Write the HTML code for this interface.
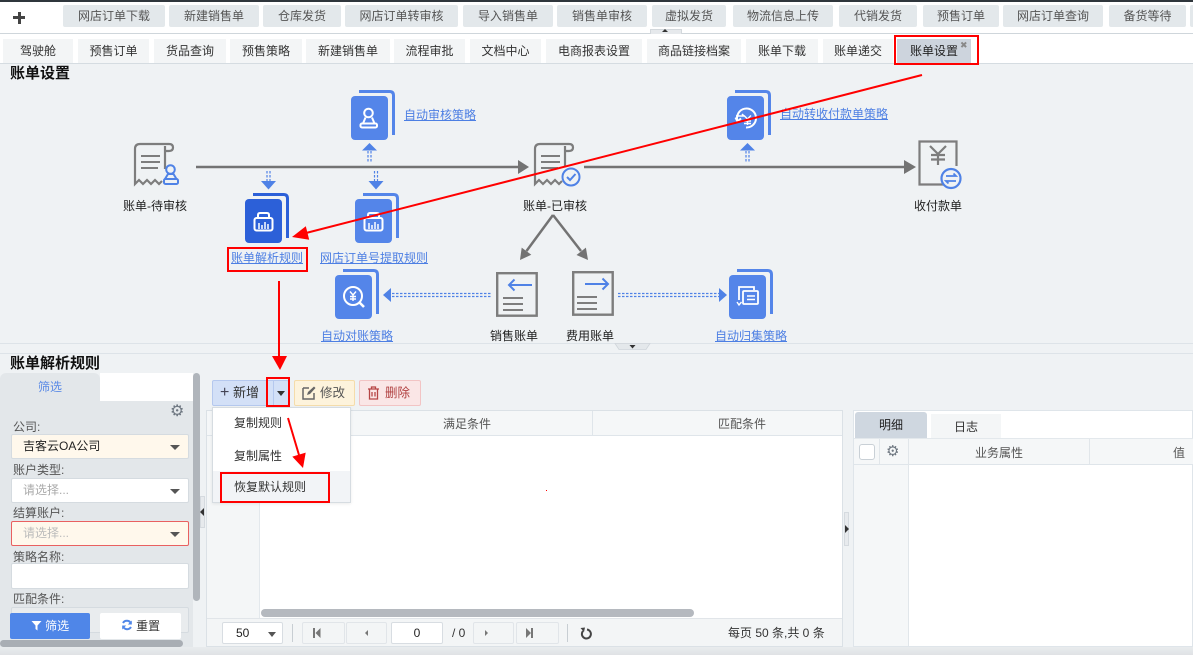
<!DOCTYPE html>
<html><head><meta charset="utf-8">
<style>
*{margin:0;padding:0;box-sizing:border-box}
body{width:1193px;height:655px;overflow:hidden;position:relative;background:#eff2f4;font-family:"Liberation Sans","Noto Sans CJK SC",sans-serif;font-size:12px;color:#333}
.a{position:absolute}
.b1{position:absolute;top:5px;height:22px;line-height:22px;background:#e3e8eb;color:#555;text-align:center;border-radius:2px;font-size:12px;white-space:nowrap;overflow:hidden}
.tab{position:absolute;top:39px;height:24px;line-height:24px;background:#f3f5f6;color:#333;text-align:center;font-size:12px;white-space:nowrap}
.lbl{position:absolute;width:140px;text-align:center;line-height:14px;font-size:12px;color:#222;white-space:nowrap}
.lnk{position:absolute;line-height:14px;font-size:12px;color:#4d7fe3;text-decoration:underline;white-space:nowrap}
.fl{position:absolute;left:13px;font-size:12px;color:#555;line-height:14px}
.sel{position:absolute;left:11px;width:178px;height:25px;border:1px solid #d5dbe0;border-radius:2px;line-height:23px;padding-left:11px;font-size:12px}
.car{position:absolute;right:8px;top:10px;width:0;height:0;border-left:5px solid transparent;border-right:5px solid transparent;border-top:5px solid #555}
.pb{position:absolute;top:622px;height:22px;background:#f3f5f6;border:1px solid #e1e5e9;border-radius:2px}
</style></head><body>

<!-- top row -->
<div class="a" style="left:0;top:0;width:1193px;height:34px;background:#fff;border-top:2px solid #2f363c;border-bottom:1px solid #cfd6db"></div>
<div class="a" style="left:13px;top:16px;width:12px;height:3px;background:#444"></div>
<div class="a" style="left:17.5px;top:11.5px;width:3px;height:12px;background:#444"></div>
<div class="b1" style="left:63px;width:102px">网店订单下载</div>
<div class="b1" style="left:169px;width:90px">新建销售单</div>
<div class="b1" style="left:263px;width:78px">仓库发货</div>
<div class="b1" style="left:345px;width:113px">网店订单转审核</div>
<div class="b1" style="left:463px;width:90px">导入销售单</div>
<div class="b1" style="left:557px;width:90px">销售单审核</div>
<div class="b1" style="left:652px;width:74px">虚拟发货</div>
<div class="b1" style="left:733px;width:100px">物流信息上传</div>
<div class="b1" style="left:839px;width:78px">代销发货</div>
<div class="b1" style="left:923px;width:76px">预售订单</div>
<div class="b1" style="left:1003px;width:100px">网店订单查询</div>
<div class="b1" style="left:1109px;width:77px">备货等待</div>
<div class="b1" style="left:1190px;width:10px"></div>
<div class="a" style="left:650px;top:29px;width:32px;height:5px;background:#e6e9ec;border:1px solid #d3d8dc;border-bottom:none"></div>
<div class="a" style="left:662px;top:29px;width:0;height:0;border-left:3px solid transparent;border-right:3px solid transparent;border-bottom:3px solid #333"></div>

<!-- tabs row -->
<div class="a" style="left:0;top:34px;width:1193px;height:30px;background:#fff;border-bottom:1px solid #d5dce1"></div>
<div class="tab" style="left:3px;width:70px">驾驶舱</div>
<div class="tab" style="left:78px;width:71px">预售订单</div>
<div class="tab" style="left:154px;width:72px">货品查询</div>
<div class="tab" style="left:230px;width:72px">预售策略</div>
<div class="tab" style="left:306px;width:84px">新建销售单</div>
<div class="tab" style="left:394px;width:71px">流程审批</div>
<div class="tab" style="left:470px;width:71px">文档中心</div>
<div class="tab" style="left:546px;width:96px">电商报表设置</div>
<div class="tab" style="left:647px;width:94px">商品链接档案</div>
<div class="tab" style="left:746px;width:72px">账单下载</div>
<div class="tab" style="left:823px;width:70px">账单递交</div>
<div class="tab" style="left:897px;width:74px;background:#cdd4dd;color:#222">账单设置</div>
<div class="a" style="left:960px;top:40px;font-size:9px;color:#888;line-height:10px">✖</div>

<!-- title -->
<div class="a" style="left:10px;top:65px;font-size:15px;font-weight:bold;color:#111;line-height:18px">账单设置</div>

<!-- diagram shapes -->
<svg class="a" style="left:0;top:0" width="1193" height="655">
<!-- separator lines -->
<line x1="0" y1="343.5" x2="1193" y2="343.5" stroke="#dde3e8" stroke-width="1"/>
<line x1="0" y1="353.5" x2="1193" y2="353.5" stroke="#dde3e8" stroke-width="1"/>
<path d="M615,343.5 H650 L646,349.5 H619 Z" fill="#e4e8eb" stroke="#cfd5da" stroke-width="0.8"/>
<path d="M629.5,345 H635.5 L632.5,348.5 Z" fill="#333"/>

<!-- gray arrows -->
<g stroke="#737373" stroke-width="2.5" fill="none">
<line x1="196" y1="167" x2="520" y2="167"/>
<line x1="584" y1="167" x2="906" y2="167"/>
<line x1="553" y1="215" x2="526.5" y2="251"/>
<line x1="553" y1="215" x2="581" y2="251"/>
</g>
<g fill="#737373">
<path d="M518,160 L529,167 L518,174Z"/>
<path d="M904,160 L916,167 L904,174Z"/>
<path d="M520,260 L531.3,254.7 L521.7,247.6 Z"/>
<path d="M588,260 L585.9,247.6 L576.5,255 Z"/>
</g>

<!-- blue dashed arrows -->
<g fill="#4f82e6">
<path d="M362,150.5 L369.5,143 L377,150.5 Z"/>
<path d="M740,150.5 L747.5,143 L755,150.5 Z"/>
<path d="M261,181 L276,181 L268.5,189.5 Z"/>
<path d="M368.5,181 L383.5,181 L376,189.5 Z"/>
<path d="M391,288 L391,302 L383,295 Z"/>
<path d="M719,288 L719,302 L727,295 Z"/>
</g>
<g stroke="#4f82e6" stroke-width="1.2" stroke-dasharray="2.5,1.5" fill="none">
<path d="M368,151 V162 M371,151 V162"/>
<path d="M746,151 V162 M749,151 V162"/>
<path d="M267,171 V181 M270,171 V181"/>
<path d="M374.5,171 V181 M377.5,171 V181"/>
<path d="M392,293.5 H492 M392,296.5 H492"/>
<path d="M618,293.5 H719 M618,296.5 H719"/>
</g>

<!-- blue doc icons -->
<g transform="translate(351,90)">
<rect x="0" y="6" width="37" height="44" rx="4" fill="#5485e9"/>
<path d="M8,1.5 H38.5 Q42.5,1.5 42.5,5.5 V45" fill="none" stroke="#5485e9" stroke-width="3"/>
<g fill="none" stroke="#fff" stroke-width="2">
<circle cx="17.5" cy="23" r="4.3"/>
<path d="M14.5,27.5 L12,33.5 H23.5 L21,27.5"/>
<rect x="9.5" y="33.5" width="16.5" height="4" rx="1.5"/>
</g></g>

<g transform="translate(727,90)">
<rect x="0" y="6" width="37" height="44" rx="4" fill="#5485e9"/>
<path d="M8,1.5 H38.5 Q42.5,1.5 42.5,5.5 V45" fill="none" stroke="#5485e9" stroke-width="3"/>
<g fill="none" stroke="#fff" stroke-width="2">
<path d="M10.5,31 A9.5,9.5 0 1 1 19,37.5"/>
<path d="M8.5,27.5 L10.5,31.5 L14,28.5"/>
<path d="M9,26 H17 L15,24" stroke-width="1.5"/>
<path d="M17,25.5 L20.5,29 L24,25.5 M20.5,29 V35 M17,31 H24 M17,33.5 H24" stroke-width="1.4"/>
</g></g>

<g transform="translate(245,193)">
<rect x="0" y="6" width="37" height="44" rx="4" fill="#2c60d8"/>
<path d="M8,1.5 H38.5 Q42.5,1.5 42.5,5.5 V45" fill="none" stroke="#2c60d8" stroke-width="3"/>
<g fill="none" stroke="#fff" stroke-width="2">
<path d="M13,25 V22 Q13,20 15,20 H22 Q24,20 24,22 V25"/>
<rect x="9.5" y="25" width="18" height="12.5" rx="2"/>
<path d="M14,36 V30 M17,36 V32 M20,36 V29 M23,36 V31" stroke-width="1.5"/>
</g></g>

<g transform="translate(355,193)">
<rect x="0" y="6" width="37" height="44" rx="4" fill="#5485e9"/>
<path d="M8,1.5 H38.5 Q42.5,1.5 42.5,5.5 V45" fill="none" stroke="#5485e9" stroke-width="3"/>
<g fill="none" stroke="#fff" stroke-width="2">
<path d="M13,25 V22 Q13,20 15,20 H22 Q24,20 24,22 V25"/>
<rect x="9.5" y="25" width="18" height="12.5" rx="2"/>
<path d="M14,36 V30 M17,36 V32 M20,36 V29 M23,36 V31" stroke-width="1.5"/>
</g></g>

<g transform="translate(335,269)">
<rect x="0" y="6" width="37" height="44" rx="4" fill="#5485e9"/>
<path d="M8,1.5 H38.5 Q42.5,1.5 42.5,5.5 V45" fill="none" stroke="#5485e9" stroke-width="3"/>
<g fill="none" stroke="#fff" stroke-width="2">
<circle cx="18" cy="27" r="9"/>
<path d="M24.5,33.5 L29,38" stroke-width="2.6"/>
<path d="M15,22.5 L18,26 L21,22.5 M18,26 V32 M15,27.5 H21 M15,30 H21" stroke-width="1.4"/>
</g></g>

<g transform="translate(729,269)">
<rect x="0" y="6" width="37" height="44" rx="4" fill="#5485e9"/>
<path d="M8,1.5 H38.5 Q42.5,1.5 42.5,5.5 V45" fill="none" stroke="#5485e9" stroke-width="3"/>
<g fill="none" stroke="#fff" stroke-width="1.8">
<path d="M10,31 V18 H25 V21"/>
<rect x="14" y="22" width="15" height="13" rx="1"/>
<path d="M18,27 H26 M18,30.5 H26" stroke-width="1.4"/>
<path d="M8,33 L10,36 L12.5,33" stroke-width="1.4"/>
</g></g>

<!-- gray receipt: 待审核 -->
<g transform="translate(133,142)" fill="none" stroke="#7d7d7d" stroke-width="2.2">
<path d="M2,7 V42 L6,38 L10,42 L14,38 L18,42 L22,38 L26,42 L29,39"/>
<path d="M2,7 Q2,2 7,2 H36 Q40,2 40,5.5 Q40,9 36,9 H32"/>
<path d="M32,4 V27"/>
<path d="M8,14 H27 M8,20 H27 M8,26 H25" stroke-width="2"/>
<g stroke="#4f82e6" stroke-width="2" fill="#eff2f4">
<circle cx="37.5" cy="27.5" r="4.3"/>
<path d="M35,32 L32,37 H43.5 L40.5,32 Z"/>
<rect x="31" y="37" width="14" height="5" rx="1.5"/>
</g></g>

<!-- gray receipt: 已审核 -->
<g transform="translate(533,142)" fill="none" stroke="#7d7d7d" stroke-width="2.2">
<path d="M2,7 V42 L6,38 L10,42 L14,38 L18,42 L22,38 L26,42 L29,39"/>
<path d="M2,7 Q2,2 7,2 H36 Q40,2 40,5.5 Q40,9 36,9 H32"/>
<path d="M32,4 V25"/>
<path d="M8,14 H27 M8,20 H27 M8,26 H25" stroke-width="2"/>
<circle cx="38" cy="35" r="8.5" stroke="#4f82e6" stroke-width="2" fill="#eff2f4"/>
<path d="M34,35 L37,38 L42.5,32" stroke="#4f82e6" stroke-width="2"/>
</g>

<!-- 收付款单 -->
<g transform="translate(918,140)" fill="none" stroke="#7d7d7d" stroke-width="2.2">
<path d="M38.5,26 V1.5 H1.5 V44.5 H26"/>
<path d="M12,6 L20,14 L28,6 M20,14 V25 M13,15 H27 M13,19.5 H27"/>
<circle cx="33" cy="38.5" r="9.5" stroke="#4f82e6" fill="#eff2f4"/>
<path d="M28,36 H38 L35.5,33.5 M38,41 H28 L30.5,43.5" stroke="#4f82e6" stroke-width="1.8"/>
</g>

<!-- 销售账单 -->
<g transform="translate(496,272)" fill="none" stroke-width="2.4">
<rect x="1.2" y="1.2" width="39.5" height="42.5" stroke="#7d7d7d"/>
<path d="M36,13 H13 M18.5,7.5 L13,13 L18.5,18.5" stroke="#4f82e6" stroke-width="2"/>
<path d="M7,26 H27 M7,32 H27 M7,38 H27" stroke="#7d7d7d" stroke-width="2"/>
</g>
<!-- 费用账单 -->
<g transform="translate(572,271)" fill="none" stroke-width="2.4">
<rect x="1.2" y="1.2" width="39.5" height="42.5" stroke="#7d7d7d"/>
<path d="M13,13 H36 M30.5,7.5 L36,13 L30.5,18.5" stroke="#4f82e6" stroke-width="2"/>
<path d="M5,26 H25 M5,32 H25 M5,38 H25" stroke="#7d7d7d" stroke-width="2"/>
</g>
</svg>

<!-- diagram labels -->
<div class="lbl" style="left:85px;top:199px">账单-待审核</div>
<div class="lbl" style="left:485px;top:199px">账单-已审核</div>
<div class="lbl" style="left:868px;top:199px">收付款单</div>
<div class="lnk" style="left:404px;top:108px">自动审核策略</div>
<div class="lnk" style="left:780px;top:107px">自动转收付款单策略</div>
<div class="lnk" style="left:231px;top:251px">账单解析规则</div>
<div class="lnk" style="left:320px;top:251px">网店订单号提取规则</div>
<div class="lnk" style="left:321px;top:329px">自动对账策略</div>
<div class="lbl" style="left:444px;top:329px">销售账单</div>
<div class="lbl" style="left:520px;top:329px">费用账单</div>
<div class="lnk" style="left:715px;top:329px">自动归集策略</div>

<!-- lower section title -->
<div class="a" style="left:10px;top:355px;font-size:15px;font-weight:bold;color:#111;line-height:18px">账单解析规则</div>

<!-- left filter panel -->
<div class="a" style="left:0;top:373px;width:100px;height:28px;background:#e3e7ea;border-radius:6px 6px 0 0;color:#5a8ae6;text-align:center;line-height:28px">筛选</div>
<div class="a" style="left:100px;top:373px;width:93px;height:28px;background:#fff"></div>
<div class="a" style="left:0;top:401px;width:193px;height:246px;background:#e3e7ea"></div>
<div class="a" style="left:170px;top:403px;font-size:16px;color:#6e7781;line-height:18px">⚙</div>
<div class="fl" style="top:420px">公司:</div>
<div class="sel" style="top:434px;background:#fff8ec;color:#222">吉客云OA公司<div class="car"></div></div>
<div class="fl" style="top:463px">账户类型:</div>
<div class="sel" style="top:478px;background:#fff;color:#aaa">请选择...<div class="car"></div></div>
<div class="fl" style="top:506px">结算账户:</div>
<div class="sel" style="top:521px;background:#fff8ec;color:#bbb;border-color:#e96060">请选择...<div class="car"></div></div>
<div class="fl" style="top:550px">策略名称:</div>
<div class="sel" style="top:563px;height:26px;background:#fff"></div>
<div class="fl" style="top:592px">匹配条件:</div>
<div class="sel" style="top:607px;height:26px;background:#e9ecee"></div>
<div class="a" style="left:10px;top:613px;width:80px;height:26px;background:#4f86e8;border-radius:2px;color:#fff;line-height:26px;text-align:center;font-size:12px">
<svg width="11" height="11" style="vertical-align:-1px"><path d="M0.5,1 H10.5 L6.5,5.5 V10.5 L4.5,9 V5.5 Z" fill="#fff"/></svg> 筛选</div>
<div class="a" style="left:100px;top:613px;width:81px;height:26px;background:#fff;border-radius:2px;color:#333;line-height:26px;text-align:center;font-size:12px">
<svg width="12" height="12" style="vertical-align:-1px"><path d="M10,4.5 A4.5,4.5 0 0 0 2,4 M2,7.5 A4.5,4.5 0 0 0 10,8" fill="none" stroke="#4f86e8" stroke-width="2"/><path d="M10.8,1.5 V5.5 H6.8 Z M1.2,10.5 V6.5 H5.2 Z" fill="#4f86e8"/></svg> 重置</div>
<div class="a" style="left:0;top:640px;width:183px;height:7px;background:#a9aeb4;border-radius:4px"></div>
<div class="a" style="left:193px;top:373px;width:7px;height:228px;background:#b0b5bb;border-radius:4px"></div>
<!-- splitter left -->
<div class="a" style="left:200px;top:496px;width:5px;height:32px;background:#e7eaed;border:1px solid #d5dadf"></div>
<div class="a" style="left:200px;top:508px;width:0;height:0;border-top:4px solid transparent;border-bottom:4px solid transparent;border-right:4px solid #333"></div>

<!-- middle grid -->
<div class="a" style="left:206px;top:410px;width:637px;height:237px;background:#fff;border:1px solid #dbe1e6"></div>
<div class="a" style="left:207px;top:411px;width:635px;height:25px;background:#f5f7f8;border-bottom:1px solid #dfe5ea"></div>
<div class="a" style="left:207px;top:436px;width:53px;height:182px;background:#f4f6f7;border-right:1px solid #e3e8ec"></div>
<div class="a" style="left:592px;top:411px;width:1px;height:25px;background:#dfe5ea"></div>
<div class="a" style="left:407px;top:417px;width:120px;text-align:center;color:#555;line-height:14px">满足条件</div>
<div class="a" style="left:682px;top:417px;width:120px;text-align:center;color:#555;line-height:14px">匹配条件</div>
<div class="a" style="left:546px;top:490px;width:1px;height:1px;background:#f00"></div>
<div class="a" style="left:261px;top:609px;width:433px;height:8px;background:#b5b9bf;border-radius:4px"></div>
<div class="a" style="left:207px;top:618px;width:635px;height:28px;background:#f3f5f6;border-top:1px solid #e1e5e9"></div>
<div class="pb" style="left:222px;width:61px;background:#fff;border-color:#d8dde2;line-height:20px;padding-left:13px;color:#222">50<div class="car" style="top:9px;right:6px;border-left-width:4px;border-right-width:4px"></div></div>
<div class="a" style="left:292px;top:624px;width:1px;height:18px;background:#c8ced3"></div>
<div class="pb" style="left:302px;width:43px"></div>
<div class="pb" style="left:346px;width:41px"></div>
<div class="pb" style="left:391px;width:52px;background:#fff;border-color:#d8dde2;text-align:center;line-height:20px;color:#222">0</div>
<div class="a" style="left:452px;top:626px;line-height:14px;color:#333">/ 0</div>
<div class="pb" style="left:473px;width:41px"></div>
<div class="pb" style="left:516px;width:43px"></div>
<div class="a" style="left:567px;top:624px;width:1px;height:18px;background:#c8ced3"></div>
<svg class="a" style="left:300px;top:622px" width="300" height="22">
<g fill="#777"><rect x="13" y="6" width="2" height="10"/><path d="M20.5,6 V16 L15.5,11 Z"/>
<path d="M68,8 V14 L65,11 Z"/>
<path d="M185,8 V14 L188,11 Z"/>
<path d="M226,6 V16 L231,11 Z"/><rect x="231" y="6" width="2" height="10"/></g>
<path d="M287,7.5 A4.5,4.5 0 1 1 283,9" fill="none" stroke="#444" stroke-width="2"/>
<path d="M280.5,6 L285,5.5 L284,10 Z" fill="#444"/>
</svg>
<div class="a" style="left:728px;top:626px;line-height:14px;color:#333;white-space:nowrap">每页 50 条,共 0 条</div>

<!-- toolbar -->
<div class="a" style="left:212px;top:380px;width:77px;height:26px;background:#d3e0f7;border:1px solid #b5c8ee;border-radius:2px"></div>
<div class="a" style="left:273px;top:381px;width:1px;height:24px;background:#b5c8ee"></div>
<div class="a" style="left:220px;top:385px;line-height:16px;color:#333;font-size:13px;white-space:nowrap"><span style="font-size:16px;color:#445">+</span> 新增</div>
<div class="a" style="left:277px;top:391px;width:0;height:0;border-left:4px solid transparent;border-right:4px solid transparent;border-top:5px solid #333"></div>
<div class="a" style="left:294px;top:380px;width:61px;height:26px;background:#fdf3dc;border:1px solid #f5dcaa;border-radius:2px"></div>
<svg class="a" style="left:302px;top:386px" width="14" height="14"><path d="M1,2 H7 M1,2 V13 H12 V7" fill="none" stroke="#666" stroke-width="1.5"/><path d="M5,9 L6,6 L12,0.5 L13.5,2 L8,8 Z" fill="#666"/></svg>
<div class="a" style="left:320px;top:386px;line-height:14px;color:#555;font-size:12.5px">修改</div>
<div class="a" style="left:359px;top:380px;width:62px;height:26px;background:#fae6e6;border:1px solid #f2c4c4;border-radius:2px"></div>
<svg class="a" style="left:367px;top:386px" width="13" height="14"><path d="M1,3 H12 M4.5,3 V1 H8.5 V3 M2.5,3 V13 H10.5 V3 M5,6 V10.5 M8,6 V10.5" fill="none" stroke="#b64545" stroke-width="1.3"/></svg>
<div class="a" style="left:385px;top:386px;line-height:14px;color:#b04040;font-size:12.5px">删除</div>

<!-- dropdown menu -->
<div class="a" style="left:212px;top:407px;width:139px;height:96px;background:#fff;border:1px solid #d6dce1;box-shadow:0 1px 3px rgba(0,0,0,.08)"></div>
<div class="a" style="left:213px;top:471px;width:137px;height:31px;background:#f2f4f7"></div>
<div class="a" style="left:234px;top:416px;line-height:14px;color:#333">复制规则</div>
<div class="a" style="left:234px;top:449px;line-height:14px;color:#333">复制属性</div>
<div class="a" style="left:234px;top:480px;line-height:14px;color:#333">恢复默认规则</div>

<!-- splitter right -->
<div class="a" style="left:844px;top:512px;width:5px;height:34px;background:#e7eaed;border:1px solid #d5dadf"></div>
<div class="a" style="left:845px;top:525px;width:0;height:0;border-top:4px solid transparent;border-bottom:4px solid transparent;border-left:4px solid #333"></div>

<!-- right panel -->
<div class="a" style="left:853px;top:410px;width:340px;height:237px;background:#fff;border:1px solid #dfe5ea"></div>
<div class="a" style="left:855px;top:412px;width:72px;height:26px;background:#cfd7e0;border-radius:3px 3px 0 0;text-align:center;line-height:26px;color:#222">明细</div>
<div class="a" style="left:931px;top:414px;width:70px;height:24px;background:#f4f6f7;text-align:center;line-height:26px;color:#333">日志</div>
<div class="a" style="left:854px;top:438px;width:339px;height:27px;background:#f5f7f8;border-top:1px solid #e3e8ec;border-bottom:1px solid #dfe5ea"></div>
<div class="a" style="left:859px;top:444px;width:16px;height:16px;background:#fff;border:1px solid #c9d0d6;border-radius:3px"></div>
<div class="a" style="left:886px;top:443px;font-size:15px;color:#6e7781;line-height:17px">⚙</div>
<div class="a" style="left:879px;top:439px;width:1px;height:25px;background:#e1e6ea"></div>
<div class="a" style="left:908px;top:439px;width:1px;height:207px;background:#e1e6ea"></div>
<div class="a" style="left:1089px;top:439px;width:1px;height:25px;background:#e1e6ea"></div>
<div class="a" style="left:854px;top:465px;width:54px;height:181px;background:#f5f7f8"></div>
<div class="a" style="left:939px;top:446px;width:120px;text-align:center;color:#555;line-height:14px">业务属性</div>
<div class="a" style="left:1173px;top:446px;color:#555;line-height:14px">值</div>

<!-- bottom strip -->
<div class="a" style="left:0;top:647px;width:1193px;height:8px;background:linear-gradient(#e9ecee,#dfe2e5)"></div>

<!-- red annotations -->
<svg class="a" style="left:0;top:0;z-index:20" width="1193" height="655">
<g fill="none" stroke="#f00" stroke-width="2">
<rect x="895" y="36" width="83" height="28"/>
<rect x="228" y="248" width="79" height="23"/>
<rect x="267" y="378" width="22" height="28"/>
<rect x="221" y="473" width="108" height="29"/>
<line x1="922" y1="75" x2="306" y2="233"/>
<line x1="279" y1="281" x2="279" y2="357"/>
<line x1="288" y1="418" x2="299" y2="455"/>
</g>
<g fill="#f00">
<path d="M292,237 L309.2,239.8 L305.8,226.2 Z"/>
<path d="M272,356 L287,356 L280,370 Z"/>
<path d="M303,468 L305.7,452.6 L292.3,456.6 Z"/>
</g>
</svg>
</body></html>
